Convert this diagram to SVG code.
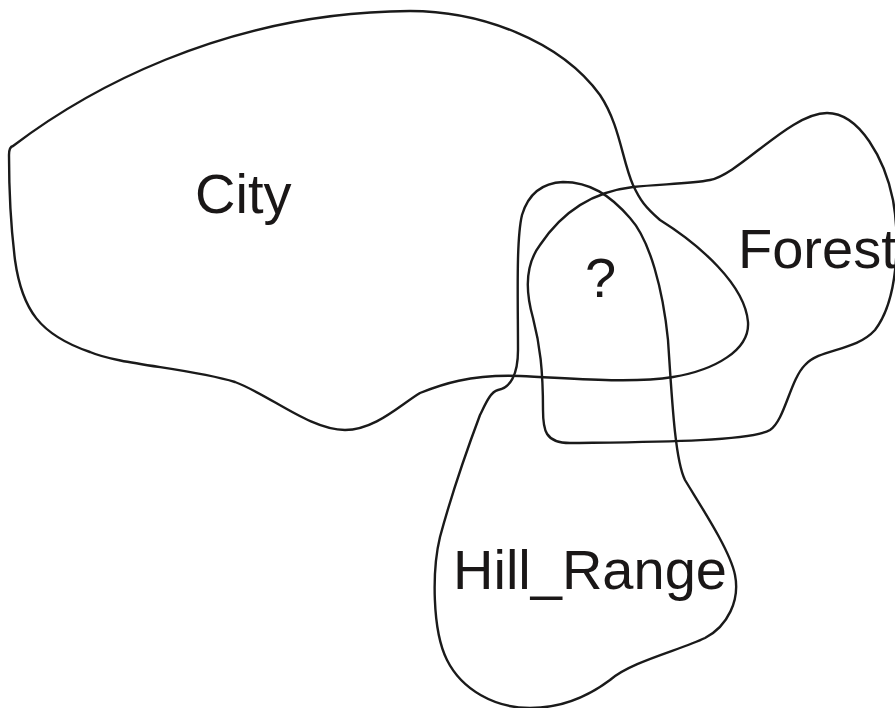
<svg xmlns="http://www.w3.org/2000/svg" width="895" height="708" viewBox="0 0 895 708">
<style>
.b{fill:none;stroke:#1a1a1a;stroke-width:2.4;stroke-linejoin:round}
.t{font-family:"Liberation Sans",Arial,sans-serif;font-size:56px;fill:#1a1717}
</style>
<rect width="895" height="708" fill="#fff"/>
<g id="city">
<path class="b" d="M13,146 C80,95 220,12 410,11 C480,11 560,40 600,95 C620,125 622,160 633,185 C640,200 645,207 660,220 C700,245 745,285 748,322 C750,350 715,370 673,377 C630,384 570,378 520,376 C470,374 440,385 420,393 C400,405 375,430 345,430 C310,430 270,395 235,382 C190,368 120,365 90,352 C40,335 22,310 15,260 C10,220 9,180 9,155 Q9,147 13,146 Z"/>
<text class="t" x="195" y="213">City</text>
</g>
<g id="forest">
<path class="b" d="M633,187 C660,184 690,184 710,180 C740,174 790,113 827,113 C860,113 885,160 893,200 C900,240 898,300 875,330 C855,352 820,348 805,365 C790,380 785,420 770,430 C750,442 640,442 570,443 C545,443 543,430 543,410 C543,370 540,345 533,318 C525,290 525,265 540,245 C560,215 590,192 633,187 Z"/>
<text class="t" x="738" y="268">Forest</text>
</g>
<g id="hill_range">
<path class="b" d="M563,182 C540,183 528,195 522,215 C516,240 518,300 518,350 C518,375 510,388 498,390 C490,392 485,405 480,415 C465,455 450,500 440,537 C432,570 432,630 447,660 C462,690 495,708 530,708 C565,708 590,695 610,680 C630,662 680,650 705,638 C728,626 740,600 735,575 C730,550 700,505 685,480 C675,460 672,400 668,340 C663,290 650,240 630,218 C610,195 590,182 563,182 Z"/>
<text class="t" x="453" y="589">Hill_Range</text>
</g>
<g id="unknown">
<text class="t" x="585" y="297">?</text>
</g>
</svg>
